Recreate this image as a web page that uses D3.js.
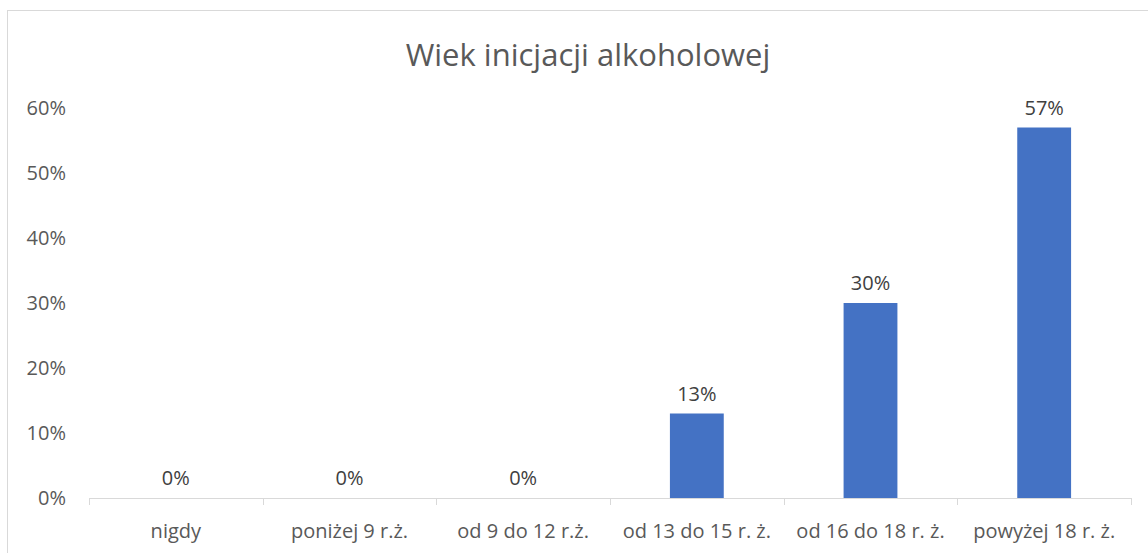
<!DOCTYPE html>
<html>
<head>
<meta charset="utf-8">
<script src="https://cdn.jsdelivr.net/npm/d3@7"></script>
<style>
  body { margin: 0; background: #fff; }
  svg { display: block; font-family: "Open Sans", sans-serif; }
</style>
</head>
<body>
<svg id="chart" width="1148" height="553"></svg>
<script>
// chart data
var categories = ["nigdy", "poniżej 9 r.ż.", "od 9 do 12 r.ż.", "od 13 do 15 r. ż.", "od 16 do 18 r. ż.", "powyżej 18 r. ż."];
var values = [0, 0, 0, 0.13, 0.30, 0.57];
var yTicks = [0, 0.1, 0.2, 0.3, 0.4, 0.5, 0.6];
var title = "Wiek inicjacji alkoholowej";

var svg = d3.select("#chart");

// outer chart border (right/bottom run off the picture)
svg.append("rect")
  .attr("x", 7.5).attr("y", 10.5)
  .attr("width", 1200).attr("height", 600)
  .attr("fill", "none")
  .attr("stroke", "#d9d9d9");

// plot area
var plotLeft = 89, plotRight = 1131, plotTop = 108, plotBottom = 498;

var x = d3.scaleBand()
  .domain(categories)
  .range([plotLeft, plotRight])
  .paddingInner(0.69)
  .paddingOuter(0.345);

var y = d3.scaleLinear()
  .domain([0, 0.6])
  .range([plotBottom, plotTop]);

var pct = d3.format(".0%");

// title
svg.append("text")
  .attr("x", 588)
  .attr("y", 66)
  .attr("text-anchor", "middle")
  .attr("font-size", 31)
  .attr("fill", "#595959")
  .text(title);

// y axis labels only
svg.append("g")
  .selectAll("text")
  .data(yTicks)
  .enter()
  .append("text")
  .attr("x", 66)
  .attr("y", function(d) { return y(d); })
  .attr("dy", "0.36em")
  .attr("text-anchor", "end")
  .attr("font-size", 20)
  .attr("fill", "#595959")
  .text(pct);

// bars
svg.append("g")
  .selectAll("rect")
  .data(values)
  .enter()
  .append("rect")
  .attr("x", function(d, i) { return x(categories[i]); })
  .attr("y", function(d) { return y(d); })
  .attr("width", x.bandwidth())
  .attr("height", function(d) { return y(0) - y(d); })
  .attr("fill", "#4472c4");

// data labels
svg.append("g")
  .selectAll("text")
  .data(values)
  .enter()
  .append("text")
  .attr("x", function(d, i) { return x(categories[i]) + x.bandwidth() / 2; })
  .attr("y", function(d) { return y(d) - 13; })
  .attr("text-anchor", "middle")
  .attr("font-size", 20)
  .attr("fill", "#404040")
  .text(pct);

// x axis: line with ticks at category boundaries
var xAxis = svg.append("g");
xAxis.append("line")
  .attr("x1", plotLeft).attr("x2", plotRight)
  .attr("y1", plotBottom + 0.5).attr("y2", plotBottom + 0.5)
  .attr("stroke", "#d9d9d9");

var step = x.step();
xAxis.selectAll(".tick")
  .data(d3.range(categories.length + 1))
  .enter()
  .append("line")
  .attr("x1", function(i) { return Math.round(plotLeft + i * step) + 0.5; })
  .attr("x2", function(i) { return Math.round(plotLeft + i * step) + 0.5; })
  .attr("y1", plotBottom)
  .attr("y2", plotBottom + 7)
  .attr("stroke", "#d9d9d9");

xAxis.selectAll(".lbl")
  .data(categories)
  .enter()
  .append("text")
  .attr("x", function(d) { return x(d) + x.bandwidth() / 2; })
  .attr("y", 538)
  .attr("text-anchor", "middle")
  .attr("font-size", 20)
  .attr("fill", "#595959")
  .text(function(d) { return d; });
</script>
</body>
</html>
